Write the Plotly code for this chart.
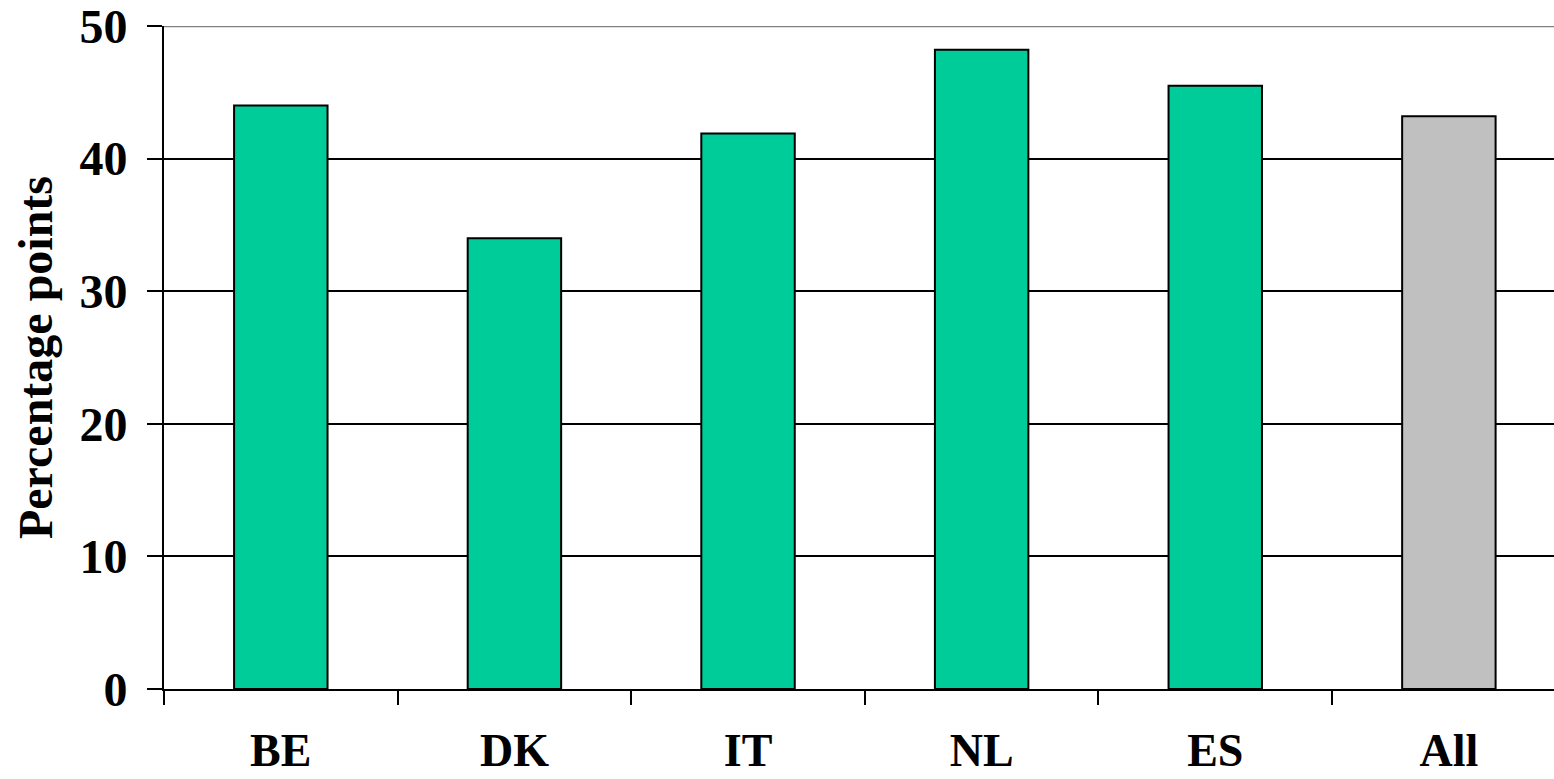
import plotly.graph_objects as go

countries = ["BE", "DK", "IT", "NL", "ES", "All"]
values = [44.0, 34.0, 41.9, 48.2, 45.5, 43.2]
bar_colors = ["#00CC99", "#00CC99", "#00CC99", "#00CC99", "#00CC99", "#C0C0C0"]
y_ticks = [0, 10, 20, 30, 40, 50]

font_family = "Liberation Serif, Times New Roman, serif"

fig = go.Figure(
    go.Bar(
        x=countries,
        y=values,
        width=0.4,
        marker=dict(color=bar_colors, line=dict(color="black", width=2)),
    )
)

fig.update_layout(
    width=1554,
    height=779,
    margin=dict(l=164, r=0, t=26, b=90),
    paper_bgcolor="white",
    plot_bgcolor="white",
    showlegend=False,
    font=dict(family=font_family, color="black"),
)

fig.update_xaxes(
    range=[-0.5, 5.45],
    automargin=False,
    showline=True,
    linecolor="black",
    linewidth=2,
    ticks="outside",
    tickson="boundaries",
    ticklen=14,
    tickwidth=2,
    tickcolor="black",
    ticklabelstandoff=20,
    tickfont=dict(family=font_family, size=46, weight="bold"),
    showgrid=False,
)

fig.update_yaxes(
    range=[0, 50],
    tickvals=y_ticks,
    automargin=False,
    ticklabeloverflow="allow",
    showline=True,
    linecolor="black",
    linewidth=2,
    ticks="outside",
    ticklen=15,
    tickwidth=2,
    tickcolor="black",
    ticklabelstandoff=10,
    tickfont=dict(family=font_family, size=48, weight="bold"),
    showgrid=True,
    gridcolor="black",
    gridwidth=1.5,
    zeroline=False,
    title=dict(
        text="Percentage points",
        font=dict(family=font_family, size=48, weight="bold"),
        standoff=12,
    ),
)

# top border of the plotting area in grey
fig.add_shape(
    type="line",
    xref="paper",
    yref="y",
    x0=0,
    x1=1,
    y0=50,
    y1=50,
    line=dict(color="#808080", width=2.5),
)

fig.write_html("out.html")
